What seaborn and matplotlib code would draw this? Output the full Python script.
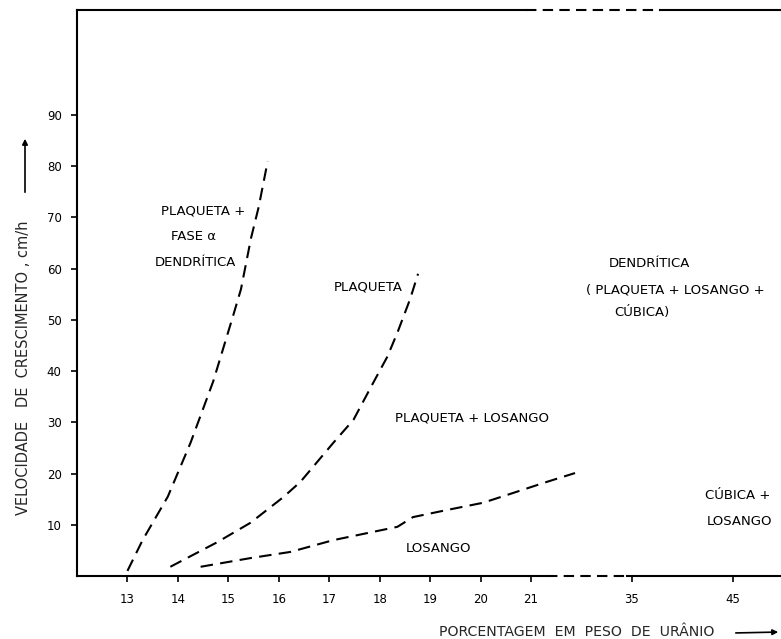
import numpy as np
import pandas as pd
import matplotlib
matplotlib.use("Agg")
import matplotlib.pyplot as plt
from matplotlib.scale import FuncScale
from matplotlib.patches import FancyArrowPatch
import seaborn as sns

# Boundary curves: uranium weight percent vs. growth rate (cm/h)
plaq_fase_x = [13.0, 13.3, 13.8, 14.25, 14.7, 15.1, 15.25, 15.45, 15.6, 15.78]
plaq_fase_y = [1.0, 7.0, 15.5, 26.0, 38.0, 51.0, 56.0, 66.0, 72.0, 81.0]

plaq_los_x = [13.85, 14.78, 15.44, 16.09, 16.43, 17.08, 17.48, 17.87, 18.15, 18.35, 18.6, 18.76]
plaq_los_y = [1.8, 6.6, 10.4, 15.4, 18.4, 26.0, 30.5, 37.7, 42.8, 47.5, 54.0, 59.0]

losango_x = [14.45, 15.44, 16.23, 17.08, 18.35, 18.66, 19.34, 20.05, 20.64, 23.24, 27.1]
losango_y = [1.8, 3.5, 4.7, 7.0, 9.6, 11.5, 12.9, 14.3, 16.2, 18.4, 20.1]

x_ticks = [13, 14, 15, 16, 17, 18, 19, 20, 21, 35, 45]
y_ticks = [10, 20, 30, 40, 50, 60, 70, 80, 90]

# Broken composition axis: 13-21 % at unit spacing, then compressed to 35 and 45
brk_real = [12, 21, 35, 45, 55]
brk_pos = [-1, 8, 10, 12, 14]


def fwd(x):
    return np.interp(x, brk_real, brk_pos)


def inv(p):
    return np.interp(p, brk_pos, brk_real)


sns.set_theme(style="white")
plt.rcParams["font.family"] = ["DejaVu Sans"]

X_MAX = inv(13.33)
Y_MAX = 110.5

fig = plt.figure(figsize=(7.81, 6.39), dpi=100)
ax = fig.add_axes([77 / 781, 63 / 639, (800 - 77) / 781, 566 / 639])
ax.set_xscale(FuncScale(ax, (fwd, inv)))
ax.set_xlim(12, X_MAX)
ax.set_ylim(0, Y_MAX)
ax.set_frame_on(False)

curves = pd.concat([
    pd.DataFrame({"x": plaq_fase_x, "y": plaq_fase_y, "c": "a"}),
    pd.DataFrame({"x": plaq_los_x, "y": plaq_los_y, "c": "b"}),
    pd.DataFrame({"x": losango_x, "y": losango_y, "c": "c"}),
])
for name, grp in curves.groupby("c"):
    sns.lineplot(data=grp, x="x", y="y", sort=False, ax=ax, color="black",
                 lw=1.5, linestyle=(0, (6, 3.5)), legend=False)

# Frame: left edge solid, top and bottom drawn with a dashed break
kw = dict(color="black", lw=1.5, clip_on=False, solid_capstyle="projecting")
ax.plot([12, 12], [0, Y_MAX], **kw)
ax.plot([12, 23.2], [0, 0], **kw)
ax.plot([23.2, 34.3], [0, 0], linestyle=(0, (5, 3)), **kw)
ax.plot([34.3, X_MAX], [0, 0], **kw)
ax.plot([12, 20.9], [Y_MAX, Y_MAX], **kw)
ax.plot([20.9, 37.75], [Y_MAX, Y_MAX], linestyle=(0, (5, 3)), **kw)
ax.plot([37.75, X_MAX], [Y_MAX, Y_MAX], **kw)

ax.set_xticks(x_ticks)
ax.set_xticklabels([str(t) for t in x_ticks])
ax.set_yticks(y_ticks)
ax.set_yticklabels([str(t) for t in y_ticks])
ax.tick_params(axis="both", direction="out", length=4, width=1.2,
               color="black", labelsize=8.5, labelcolor="black")
ax.tick_params(axis="x", pad=8, bottom=True)
ax.tick_params(axis="y", pad=7, left=True)
ax.set_xlabel("")
ax.set_ylabel("")

# Region labels (horizontal positions given on the drawn axis scale)
txt = dict(fontsize=9.5, color="black", ha="center", va="center")
region_labels = [
    (1.50, 71.3, "PLAQUETA +"),
    (1.31, 66.2, "FASE α"),
    (1.35, 61.3, "DENDRÍTICA"),
    (4.77, 56.4, "PLAQUETA"),
    (10.34, 61.1, "DENDRÍTICA"),
    (10.85, 55.9, "( PLAQUETA + LOSANGO +"),
    (10.20, 51.4, "CÚBICA)"),
    (6.83, 30.9, "PLAQUETA + LOSANGO"),
    (6.16, 5.3, "LOSANGO"),
    (12.10, 15.8, "CÚBICA +"),
    (12.14, 10.7, "LOSANGO"),
]
for p, v, s in region_labels:
    ax.text(inv(p), v, s, **txt)

# Axis titles with direction arrows
fig.text(24 / 781, 1 - 368 / 639, "VELOCIDADE   DE  CRESCIMENTO , cm/h",
         rotation=90, ha="center", va="center", fontsize=10.5)
fig.text(577 / 781, 1 - 632 / 639, "PORCENTAGEM  EM  PESO  DE  URÂNIO",
         ha="center", va="center", fontsize=10.2)
fig.add_artist(FancyArrowPatch(
    (25 / 781, 1 - 195 / 639), (25 / 781, 1 - 136 / 639),
    transform=fig.transFigure, arrowstyle="-|>", mutation_scale=8,
    color="black", lw=1.2))
fig.add_artist(FancyArrowPatch(
    (733 / 781, 1 - 633 / 639), (781 / 781, 1 - 632 / 639),
    transform=fig.transFigure, arrowstyle="-|>", mutation_scale=8,
    color="black", lw=1.2))

fig.savefig("out.png", dpi=100, facecolor="white")
